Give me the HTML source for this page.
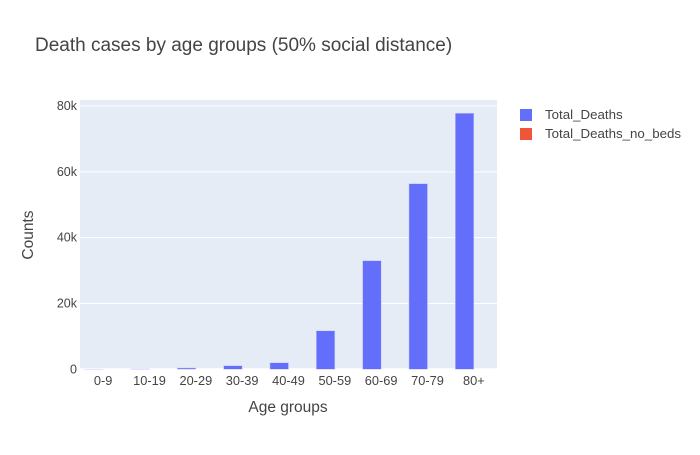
<!DOCTYPE html>
<html><head><meta charset="utf-8"><style>
body{margin:0;background:#fff;font-family:"Liberation Sans",Arial,sans-serif}
svg text{font-family:"Liberation Sans",Arial,sans-serif}
</style></head><body>
<svg id="chart" width="700" height="450">
<rect width="700" height="450" fill="#fff"/>
<text x="35" y="51" font-size="19" fill="#444">Death cases by age groups (50% social distance)</text>
<rect x="80" y="100" width="417" height="270" fill="#e5ecf6"/>
<g id="grid"></g><g id="bars"></g><g id="ticks"></g>
<text x="288" y="412" font-size="15.5" fill="#444" text-anchor="middle">Age groups</text>
<text transform="translate(33,235) rotate(-90)" font-size="15.5" fill="#444" text-anchor="middle">Counts</text>
<g>
<rect x="520" y="109" width="12" height="12" fill="#636efa"/>
<text x="545" y="119" font-size="13.3" fill="#444">Total_Deaths</text></g>
<g>
<rect x="520" y="128" width="12" height="12" fill="#ef553b"/>
<text x="545" y="138" font-size="13.3" fill="#444">Total_Deaths_no_beds</text></g>
</svg>
<script>
const categories=["0-9","10-19","20-29","30-39","40-49","50-59","60-69","70-79","80+"];
const totalDeaths=[30,100,400,1100,2000,11700,33000,56400,77800];
const totalDeathsNoBeds=[0,0,0,0,0,0,0,0,0];
const yTicks=[0,20000,40000,60000,80000];
const yTickLabels=["0","20k","40k","60k","80k"];
const NS="http://www.w3.org/2000/svg";
const x0=80,x1=497,yZero=369.3,pxPer=263.3/80000;
const bw=(x1-x0)/categories.length;
const yS=v=>yZero-v*pxPer;
function mk(t,a,p){const e=document.createElementNS(NS,t);for(const k in a)e.setAttribute(k,a[k]);p.appendChild(e);return e;}
const g=document.getElementById('grid'),b=document.getElementById('bars'),tk=document.getElementById('ticks');
yTicks.forEach((v,i)=>{
 if(v>0){const l=mk('line',{x1:x0,x2:x1,y1:yS(v),y2:yS(v),stroke:'#fff','stroke-width':1},g);
 
 }
 const t=mk('text',{x:x0-3,y:yS(v)+4,'font-size':12.5,fill:'#444','text-anchor':'end'},tk);
 t.textContent=yTickLabels[i];
 
 
});
categories.forEach((c,i)=>{
 const cx=x0+bw*(i+0.5),w=bw*0.4;
 const r=mk('rect',{x:cx-w,y:yS(totalDeaths[i]),width:w,height:yZero-yS(totalDeaths[i]),fill:'#636efa',stroke:'#c8ccff','stroke-width':0.5},b);
 
 
 const r2=mk('rect',{x:cx,y:yS(totalDeathsNoBeds[i]),width:w,height:yZero-yS(totalDeathsNoBeds[i]),fill:'#ef553b'},b);
 
 
 const t=mk('text',{x:cx,y:385,'font-size':12.8,fill:'#444','text-anchor':'middle'},tk);
 t.textContent=c;
 
 
});
const zl=mk('line',{x1:x0,x2:x1,y1:yZero,y2:yZero,stroke:'#fff','stroke-width':2},g);


</script>
</body></html>
